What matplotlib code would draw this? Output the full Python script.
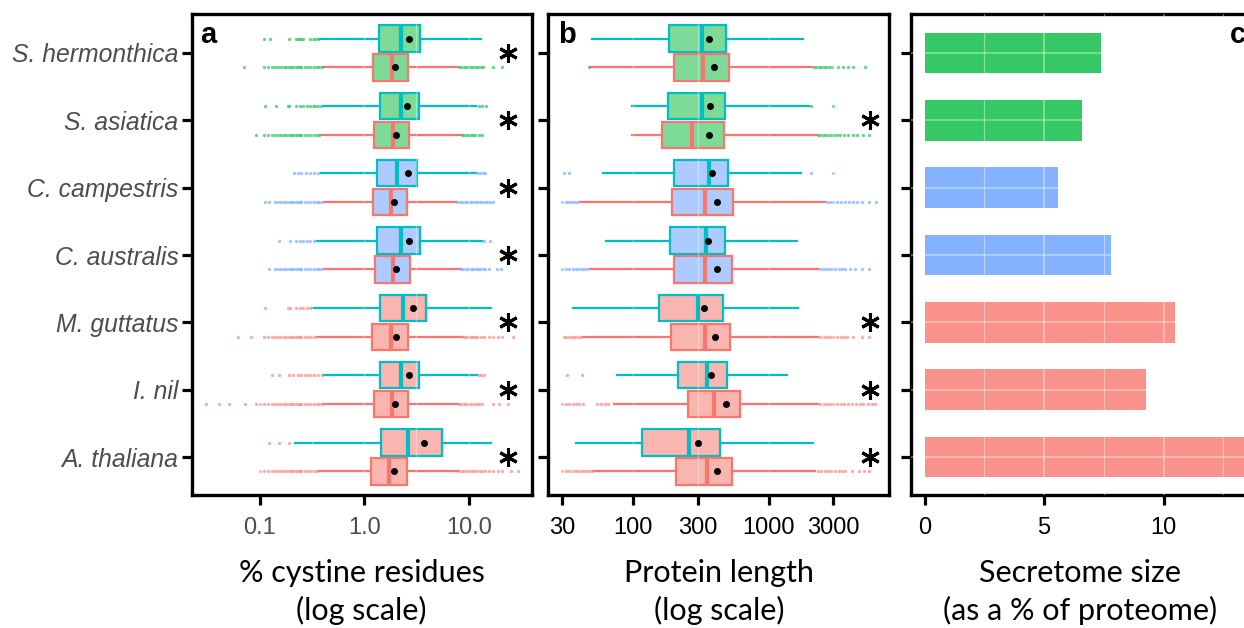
import matplotlib.pyplot as plt
from matplotlib.ticker import NullLocator, FixedLocator, FixedFormatter

plt.rcParams['font.family'] = ['Liberation Sans', 'DejaVu Sans']

# --- data -------------------------------------------------------------
species = ["S. hermonthica", "S. asiatica", "C. campestris", "C. australis",
           "M. guttatus", "I. nil", "A. thaliana"]
clade = ["striga", "striga", "cuscuta", "cuscuta", "other", "other", "other"]

# box stats per species: whislo, q1, median, q3, whishi, mean
cys_sec = [
    [0.371, 1.37, 2.24, 3.41, 13.1, 2.70],
    [0.40, 1.41, 2.23, 3.36, 11.7, 2.56],
    [0.385, 1.31, 2.07, 3.19, 11.7, 2.62],
    [0.35, 1.33, 2.23, 3.41, 13.3, 2.70],
    [0.314, 1.41, 2.33, 3.89, 16.3, 2.94],
    [0.40, 1.41, 2.23, 3.36, 12.1, 2.70],
    [0.217, 1.45, 2.64, 5.50, 16.2, 3.75],
]
cys_all = [
    [0.40, 1.21, 1.83, 2.60, 7.94, 1.95],
    [0.385, 1.23, 1.87, 2.70, 8.55, 2.00],
    [0.411, 1.21, 1.79, 2.56, 7.66, 1.92],
    [0.411, 1.27, 1.87, 2.72, 8.37, 2.02],
    [0.35, 1.18, 1.79, 2.64, 8.86, 2.01],
    [0.405, 1.24, 1.85, 2.62, 7.94, 1.98],
    [0.363, 1.15, 1.73, 2.55, 8.11, 1.92],
]
cys_sec_out = [
    [0.11, 0.125, 0.19, 0.22, 0.23, 0.24, 0.25, 0.26, 0.30, 0.32, 0.34, 0.36],
    [0.112, 0.144, 0.186, 0.19, 0.222, 0.24, 0.26, 0.28, 0.30, 0.32, 0.34, 0.36, 0.385, 12.4, 13.3, 14.7],
    [0.212, 0.23, 0.25, 0.275, 0.302, 0.33, 0.358, 12.0, 12.8, 13.6, 14.3],
    [0.154, 0.194, 0.222, 0.24, 0.26, 0.28, 0.30, 0.33, 13.9, 16.0],
    [0.112, 0.186, 0.194, 0.222, 0.24, 0.26, 0.28, 0.30],
    [0.131, 0.154, 0.19, 0.21, 0.23, 0.25, 0.27, 0.29, 0.31, 0.33, 0.36, 0.39, 12.5, 13.2, 14.0],
    [0.123, 0.154, 0.191],
]
cys_all_out = [
    [0.071, 0.11, 0.12, 0.13, 0.14, 0.15, 0.16, 0.17, 0.18, 0.19, 0.20, 0.21, 0.22, 0.23, 0.24,
     0.25, 0.27, 0.29, 0.31, 0.33, 0.35, 0.37, 0.39,
     8.0, 8.5, 9.0, 9.5, 10.0, 10.5, 11.0, 11.6, 12.2, 13.0, 13.7, 17.1, 20.9],
    [0.092, 0.11, 0.12, 0.13, 0.14, 0.15, 0.16, 0.17, 0.18, 0.19, 0.20, 0.21, 0.22, 0.23, 0.24,
     0.25, 0.27, 0.29, 0.31, 0.33, 0.35, 0.37,
     8.6, 9.1, 9.6, 10.1, 10.6, 11.0, 11.5, 12.4, 13.4],
    [0.112, 0.123, 0.14, 0.15, 0.16, 0.17, 0.18, 0.19, 0.20, 0.21, 0.22, 0.23, 0.24, 0.25,
     0.27, 0.29, 0.31, 0.33, 0.35, 0.37, 0.39,
     7.7, 8.2, 8.7, 9.2, 9.7, 10.2, 10.8, 11.4, 12.0, 12.7, 13.4, 14.2, 15.0, 16.0, 17.1],
    [0.123, 0.14, 0.15, 0.16, 0.17, 0.18, 0.19, 0.20, 0.21, 0.22, 0.23, 0.24, 0.25, 0.27,
     0.29, 0.31, 0.33, 0.35, 0.37, 0.39,
     8.4, 8.9, 9.4, 9.9, 10.4, 11.0, 11.6, 12.2, 12.9, 13.6, 14.3, 15.6, 18.7, 20.2],
    [0.0615, 0.0818, 0.11, 0.12, 0.13, 0.14, 0.15, 0.16, 0.17, 0.18, 0.19, 0.20, 0.21, 0.22,
     0.23, 0.24, 0.25, 0.27, 0.29, 0.31, 0.33,
     9.0, 9.5, 10.0, 10.5, 11.0, 11.5, 12.0, 13.0, 14.0, 15.5, 17.0, 19.0, 20.6, 26.3],
    [0.0306, 0.041, 0.051, 0.0717, 0.092, 0.10, 0.11, 0.12, 0.13, 0.14, 0.15, 0.16, 0.17,
     0.18, 0.19, 0.20, 0.21, 0.22, 0.23, 0.24, 0.25, 0.27, 0.29, 0.31, 0.33, 0.35, 0.37, 0.39,
     8.0, 8.5, 9.0, 9.5, 10.0, 10.6, 11.2, 11.9, 12.6, 13.3, 17.1, 19.6, 23.9],
    [0.10, 0.11, 0.12, 0.13, 0.14, 0.15, 0.16, 0.17, 0.18, 0.19, 0.20, 0.21, 0.22, 0.23, 0.24,
     0.25, 0.27, 0.29, 0.31, 0.33, 0.35,
     8.1, 8.6, 9.1, 9.6, 10.1, 10.7, 11.3, 12.0, 12.7, 13.5, 14.3, 15.5, 17.0, 19.0, 20.6, 25.2, 29.8],
]

len_sec = [
    [50, 184, 326, 486, 1804, 363],
    [99, 181, 326, 481, 1977, 371],
    [60, 200, 363, 500, 1726, 385],
    [64, 188, 347, 479, 1630, 360],
    [36, 156, 300, 460, 1640, 337],
    [76, 217, 354, 492, 1375, 377],
    [38, 116, 260, 439, 2115, 300],
]
len_all = [
    [48.5, 200, 331, 512, 2080, 399],
    [99, 164, 275, 468, 2265, 366],
    [41, 194, 341, 545, 2607, 420],
    [48.5, 200, 342, 539, 2328, 418],
    [43, 192, 341, 522, 2328, 404],
    [73, 254, 399, 617, 2328, 484],
    [50.7, 208, 354, 541, 2200, 420],
]
len_sec_out = [
    [],
    [2055, 2970],
    [31.2, 34, 2050, 3000],
    [],
    [],
    [32.6, 42.4],
    [],
]
len_all_out = [
    [48, 2150, 2250, 2350, 2450, 2550, 2650, 2800, 2950, 3230, 3550, 3860, 4200, 5120],
    [2300, 2400, 2500, 2600, 2750, 2900, 3050, 3200, 3360, 3610, 3860, 4200, 4500, 4930, 5480],
    [30.3, 32, 33.5, 35, 37, 39, 2700, 2850, 3000, 3200, 3400, 3650, 3900, 4200, 4460,
     4910, 5510, 6150],
    [30.3, 32, 34, 36, 38, 40, 42, 44, 45.8, 2400, 2500, 2650, 2800, 2950, 3100, 3300, 3460,
     3660, 3980, 4330, 4850, 5510],
    [31.2, 32.5, 34, 35.5, 37, 38.5, 40, 41.5, 2400, 2550, 2700, 2850, 3000, 3200, 3400,
     3600, 3770, 4200, 4850, 5510],
    [30.3, 32, 34, 36, 38, 40, 43.2, 54.7, 58, 62, 66, 2400, 2550, 2700, 2850, 3000, 3200,
     3400, 3600, 3850, 4100, 4400, 4700, 5000, 5400, 5750, 6070],
    [30.3, 32, 34, 36, 38, 40, 42, 44, 46, 48, 50, 2300, 2450, 2600, 2750, 2900, 3100, 3300,
     3450, 3660, 4100, 4660, 5050, 5510],
]

sig_cys = [1, 1, 1, 1, 1, 1, 1]
sig_len = [0, 1, 0, 0, 1, 1, 1]

secretome_pct = [7.36, 6.58, 5.58, 7.8, 10.46, 9.26, 13.8]

# --- styles -----------------------------------------------------------
fill_col = {"striga": "#7DDA97", "cuscuta": "#ADCBFF", "other": "#F9B5AF"}
dot_col = {"striga": "#35C864", "cuscuta": "#84B2FF", "other": "#F8928A"}
sec_edge = "#00BFC4"
all_edge = "#F8766D"
ylim = (6.564, -0.579)
off = 0.215


def stats(row, out):
    return dict(whislo=row[0], q1=row[1], med=row[2], q3=row[3],
                whishi=row[4], mean=row[5], fliers=out)


def draw_boxes(ax, sec, sec_out, allp, all_out):
    for i in range(len(species)):
        for rows, outs, pos, edge in [(sec, sec_out, i - off, sec_edge),
                                      (allp, all_out, i + off, all_edge)]:
            ax.bxp([stats(rows[i], outs[i])], positions=[pos], widths=0.39,
                   orientation='horizontal', patch_artist=True,
                   showmeans=True, showcaps=False, showfliers=True,
                   boxprops=dict(facecolor=fill_col[clade[i]], edgecolor=edge, linewidth=1.6),
                   whiskerprops=dict(color=edge, linewidth=1.6),
                   medianprops=dict(color=edge, linewidth=3, zorder=3),
                   meanprops=dict(marker='o', markerfacecolor='black',
                                  markeredgecolor='black', markersize=4, zorder=4),
                   flierprops=dict(marker='o', markerfacecolor=dot_col[clade[i]],
                                   markeredgecolor='none', markersize=2.4, alpha=0.75))


def style(ax):
    for s in ax.spines.values():
        s.set_linewidth(2.4)
        s.set_color('black')
    ax.tick_params(axis='both', direction='out', length=7.5, width=2.3, color='black',
                   labelsize=17)
    ax.tick_params(axis='x', pad=8)
    ax.set_ylim(*ylim)
    ax.set_yticks(range(len(species)))


fig = plt.figure(figsize=(12.44, 6.28), dpi=100)
axa = fig.add_axes([0.1541, 0.2118, 0.2733, 0.7659])
axb = fig.add_axes([0.4408, 0.2118, 0.2741, 0.7659])
axc = fig.add_axes([0.7323, 0.2118, 0.2717, 0.7659])

label_font = dict(family=['Lato', 'DejaVu Sans'], size=22)

# panel a
axa.set_xscale('log')
for g in [0.1, 0.316, 1, 3.16, 10]:
    axa.axvline(g, color='white', alpha=0.35, lw=1, zorder=2.5)
draw_boxes(axa, cys_sec, cys_sec_out, cys_all, cys_all_out)
axa.set_xlim(0.0223, 40)
style(axa)
axa.xaxis.set_major_locator(FixedLocator([0.1, 1, 10]))
axa.xaxis.set_major_formatter(FixedFormatter(["0.1", "1.0", "10.0"]))
axa.xaxis.set_minor_locator(NullLocator())
axa.tick_params(axis='x', labelcolor='#4D4D4D')
axa.set_yticklabels(species, style='italic', color='#4D4D4D', fontsize=17.8)
axa.tick_params(axis='y', pad=2)
for i, s in enumerate(sig_cys):
    if s:
        axa.plot(23.7, i, marker=(6, 2, 0), ms=13.5, mew=2.2, color='black', ls='none')
axa.set_xlabel("% cystine residues\n(log scale)", labelpad=15, linespacing=1.35, **label_font)
axa.text(0.024, 0.94, "a", transform=axa.transAxes, fontsize=21, fontweight='bold')

# panel b
axb.set_xscale('log')
for g in [30, 100, 300, 1000, 3000]:
    axb.axvline(g, color='white', alpha=0.35, lw=1, zorder=2.5)
draw_boxes(axb, len_sec, len_sec_out, len_all, len_all_out)
axb.set_xlim(23.9, 7750)
style(axb)
axb.xaxis.set_major_locator(FixedLocator([30, 100, 300, 1000, 3000]))
axb.xaxis.set_major_formatter(FixedFormatter(["30", "100", "300", "1000", "3000"]))
axb.xaxis.set_minor_locator(NullLocator())
axb.set_yticklabels([])
for i, s in enumerate(sig_len):
    if s:
        axb.plot(5590, i, marker=(6, 2, 0), ms=13.5, mew=2.2, color='black', ls='none')
axb.set_xlabel("Protein length\n(log scale)", labelpad=15, linespacing=1.35, **label_font)
axb.text(0.03, 0.94, "b", transform=axb.transAxes, fontsize=21, fontweight='bold')

# panel c
axc.barh(range(len(species)), secretome_pct, height=0.6,
         color=[dot_col[c] for c in clade], zorder=2)
for g in [2.5, 5, 7.5, 10, 12.5]:
    axc.axvline(g, color='white', alpha=0.4, lw=1.3 if g % 5 == 0 else 0.9, zorder=3)
for i in range(len(species)):
    axc.axhline(i, color='white', alpha=0.4, lw=1.2, zorder=3)
axc.set_xlim(-0.57, 13.57)
style(axc)
axc.set_xticks([0, 5, 10])
axc.set_yticklabels([])
axc.set_xlabel("Secretome size\n(as a % of proteome)", labelpad=15, linespacing=1.35, **label_font)
axc.text(0.944, 0.94, "c", transform=axc.transAxes, fontsize=21, fontweight='bold')

fig.savefig("out.png", dpi=100)
